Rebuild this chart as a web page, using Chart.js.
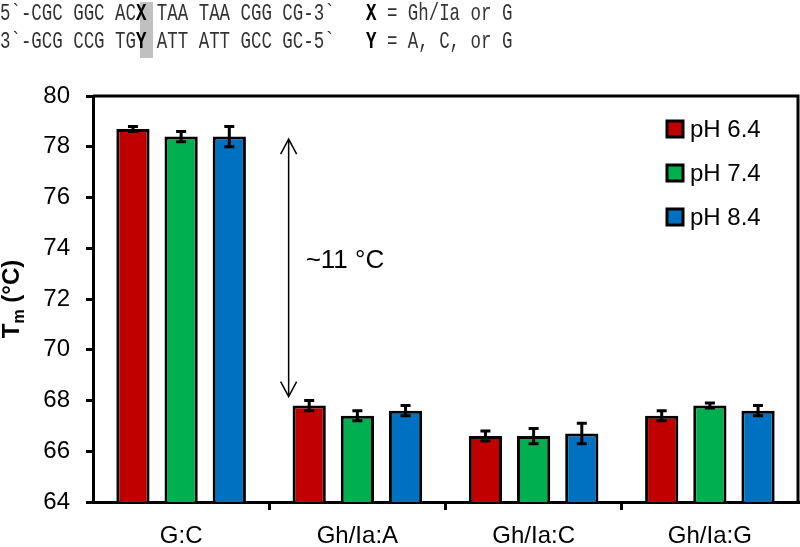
<!DOCTYPE html>
<html>
<head>
<meta charset="utf-8">
<script src="https://cdn.jsdelivr.net/npm/chart.js@4.4.1/dist/chart.umd.min.js"></script>
<style>
  html, body { margin: 0; padding: 0; background: #fff; }
  #wrap { position: relative; width: 800px; height: 547px; overflow: hidden; }
  #chart { position: absolute; left: 0; top: 0; }
  .seq {
    position: absolute; left: 0; top: 0;
    font-family: "Liberation Mono", "DejaVu Sans Mono", monospace;
    font-size: 24px; line-height: 28px;
    transform: scaleX(0.726); transform-origin: 0 0;
    color: #333; white-space: pre;
  }
  .seq b { color: #000; }
  .hl { position: absolute; left: 140px; top: 2px; width: 13px; height: 56px; background: #c0c0c0; }
</style>
</head>
<body>
<div id="wrap">
  <canvas id="chart" width="800" height="547"></canvas>
  <div class="hl"></div>
  <div class="seq">5`-CGC GGC AC<b>X</b> TAA TAA CGG CG-3`   <b>X</b> = Gh/Ia or G
3`-GCG CCG TG<b>Y</b> ATT ATT GCC GC-5`   <b>Y</b> = A, C, or G</div>
</div>
<script>
// data
const categories = ['G:C', 'Gh/Ia:A', 'Gh/Ia:C', 'Gh/Ia:G'];
const seriesNames = ['pH 6.4', 'pH 7.4', 'pH 8.4'];
const ph64 = [78.7, 67.8, 66.6, 67.4];
const ph74 = [78.4, 67.4, 66.6, 67.8];
const ph84 = [78.4, 67.6, 66.7, 67.6];
const err64 = [0.1, 0.2, 0.2, 0.2];
const err74 = [0.2, 0.2, 0.3, 0.1];
const err84 = [0.4, 0.2, 0.4, 0.2];
const yTicks = [64, 66, 68, 70, 72, 74, 76, 78, 80];
const colors = ['#C00000', '#00B050', '#0070C0'];

// ~11 °C arrow (data coords)
const arrowFrom = 78.3, arrowTo = 68.15, arrowLabel = '~11 °C', arrowLabelY = 73.5;

const FONT = 'Arial, "Liberation Sans", sans-serif';
Chart.defaults.font.family = FONT;
Chart.defaults.color = '#000';

const errors = [err64, err74, err84];

// error bars from the y scale
const errorBars = {
  id: 'errorBars',
  afterDatasetsDraw(chart) {
    const ctx = chart.ctx;
    const y = chart.scales.y;
    ctx.save();
    ctx.strokeStyle = '#000';
    ctx.lineWidth = 3;
    chart.data.datasets.forEach((ds, i) => {
      const meta = chart.getDatasetMeta(i);
      meta.data.forEach((bar, j) => {
        const v = ds.data[j], e = errors[i][j];
        const top = y.getPixelForValue(v + e);
        const bot = y.getPixelForValue(v - e);
        ctx.beginPath();
        ctx.moveTo(bar.x, top); ctx.lineTo(bar.x, bot);
        ctx.moveTo(bar.x - 5, top); ctx.lineTo(bar.x + 5, top);
        ctx.moveTo(bar.x - 5, bot); ctx.lineTo(bar.x + 5, bot);
        ctx.stroke();
      });
    });
    ctx.restore();
  }
};

// frame, legend, arrow, y title
const extras = {
  id: 'extras',
  afterDraw(chart) {
    const ctx = chart.ctx;
    const a = chart.chartArea;
    const x = chart.scales.x, y = chart.scales.y;
    ctx.save();

    // box
    ctx.strokeStyle = '#000';
    ctx.lineWidth = 3;
    ctx.beginPath();
    ctx.moveTo(a.left, a.top); ctx.lineTo(a.right, a.top); ctx.lineTo(a.right, a.bottom);
    ctx.stroke();

    // legend
    ctx.font = '24px ' + FONT;
    ctx.textBaseline = 'middle';
    ctx.textAlign = 'left';
    chart.data.datasets.forEach((ds, i) => {
      const cy = a.top + 33 + i * 44;
      const sx = a.right - 131;
      ctx.fillStyle = ds.backgroundColor;
      ctx.fillRect(sx, cy - 8, 16, 16);
      ctx.lineWidth = 3;
      ctx.strokeRect(sx, cy - 8, 16, 16);
      ctx.fillStyle = '#000';
      ctx.fillText(ds.label, sx + 23, cy + 1);
    });

    // double arrow
    const ax = x.getPixelForValue(0) + 0.61 * (x.getPixelForValue(1) - x.getPixelForValue(0));
    const y1 = y.getPixelForValue(arrowFrom), y2 = y.getPixelForValue(arrowTo);
    ctx.lineWidth = 1.5;
    ctx.beginPath();
    ctx.moveTo(ax, y1); ctx.lineTo(ax, y2);
    ctx.moveTo(ax - 8, y1 + 15); ctx.lineTo(ax, y1); ctx.lineTo(ax + 8, y1 + 15);
    ctx.moveTo(ax - 8, y2 - 15); ctx.lineTo(ax, y2); ctx.lineTo(ax + 8, y2 - 15);
    ctx.stroke();
    ctx.font = '26px ' + FONT;
    ctx.fillText(arrowLabel, ax + 17, y.getPixelForValue(arrowLabelY));

    // y title: T_m (°C)
    ctx.translate(19, (a.top + a.bottom) / 2);
    ctx.rotate(-Math.PI / 2);
    ctx.textBaseline = 'alphabetic';
    const f1 = 'bold 24px ' + FONT, f2 = 'bold 16px ' + FONT;
    ctx.font = f1; const wT = ctx.measureText('T').width;
    ctx.font = f2; const wm = ctx.measureText('m').width;
    ctx.font = f1; const wr = ctx.measureText(' (°C)').width;
    let tx = -(wT + wm + wr) / 2;
    ctx.font = f1; ctx.fillText('T', tx, 0); tx += wT;
    ctx.font = f2; ctx.fillText('m', tx, 5); tx += wm;
    ctx.font = f1; ctx.fillText(' (°C)', tx, 0);
    ctx.restore();
  }
};

const nCat = categories.length;
new Chart(document.getElementById('chart'), {
  type: 'bar',
  data: {
    labels: categories,
    datasets: [ph64, ph74, ph84].map((d, i) => ({
      label: seriesNames[i],
      data: d,
      backgroundColor: colors[i],
      borderColor: '#000',
      borderWidth: 3,
      barPercentage: 0.69,
      categoryPercentage: 0.82
    }))
  },
  options: {
    responsive: false,
    animation: false,
    devicePixelRatio: 1,
    layout: { padding: { top: 96, right: 2, left: 0, bottom: 0 } },
    plugins: { legend: { display: false }, tooltip: { enabled: false } },
    scales: {
      x: {
        afterFit: s => { s.height = 45; },
        grid: {
          offset: true, drawOnChartArea: false, drawTicks: true, tickLength: 8, lineWidth: 3,
          color: c => (c.index > 0 && c.index < nCat) ? '#000' : 'rgba(0,0,0,0)'
        },
        border: { display: true, color: '#000', width: 3 },
        ticks: { font: { size: 24 }, color: '#000', padding: 12 }
      },
      y: {
        min: 64, max: 80,
        afterFit: s => { s.width = 93; },
        afterBuildTicks: s => { s.ticks = yTicks.map(v => ({ value: v })); },
        grid: { drawOnChartArea: false, drawTicks: true, tickLength: 7, lineWidth: 3, color: '#000' },
        border: { display: true, color: '#000', width: 3 },
        ticks: { font: { size: 24 }, color: '#000', padding: 16 }
      }
    }
  },
  plugins: [errorBars, extras]
});
</script>
</body>
</html>
